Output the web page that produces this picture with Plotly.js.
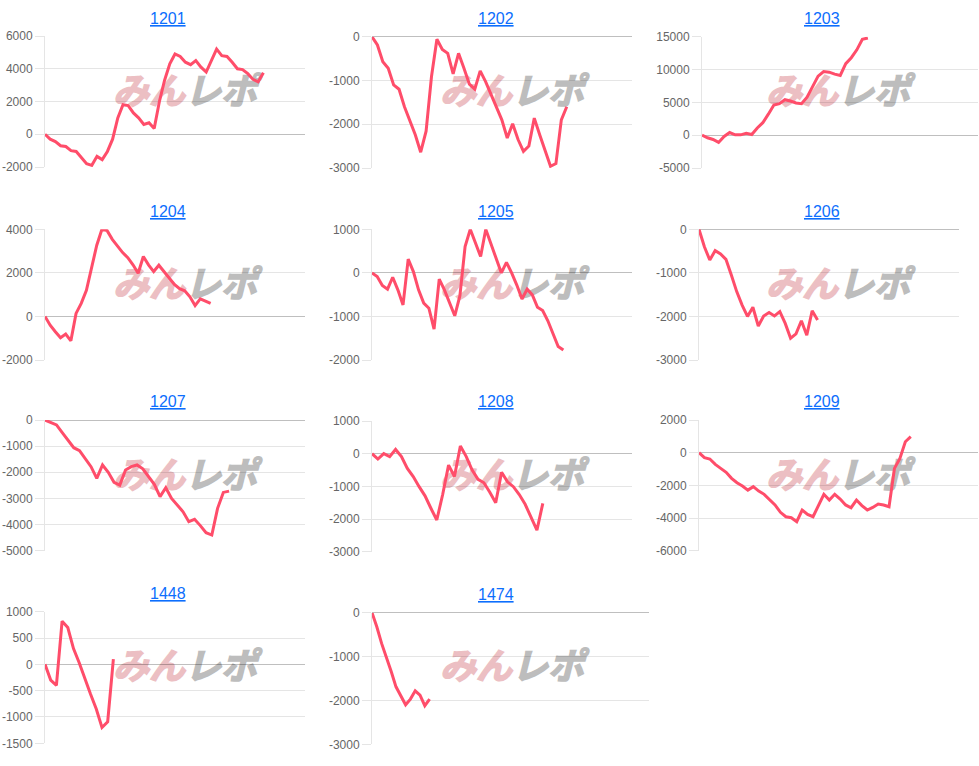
<!DOCTYPE html>
<html><head><meta charset="utf-8">
<script src="https://cdn.plot.ly/plotly-3.0.1.min.js"></script>
<style>html,body{margin:0;padding:0;background:#fff;}#chart{width:979px;height:766px;}</style>
</head><body><div id="chart"></div>
<script>
// ---- data ----
const names = ['1201','1202','1203','1204','1205','1206','1207','1208','1209','1448','1474'];
const v1201 = [0,-300,-450,-700,-750,-1000,-1050,-1450,-1800,-1900,-1350,-1550,-1050,-300,1000,1800,1750,1300,1000,600,700,350,2000,3300,4300,4900,4750,4400,4250,4500,4100,3800,4500,5200,4800,4750,4400,4000,3950,3700,3350,3200,3750];
const v1202 = [0,-190,-570,-720,-1100,-1200,-1600,-1940,-2240,-2640,-2160,-910,-60,-290,-380,-850,-380,-720,-1085,-1200,-780,-1025,-1330,-1630,-1900,-2315,-1990,-2350,-2620,-2500,-1860,-2240,-2580,-2960,-2900,-1900,-1600];
const v1203 = [0,-400,-650,-1100,-200,400,50,50,300,100,1100,1900,3200,4600,4800,5400,5200,4900,4800,5800,7400,9000,9700,9600,9300,9100,10900,11800,13000,14600,14800];
const v1204 = [0,-400,-700,-980,-810,-1120,140,600,1200,2280,3270,4000,3940,3540,3230,2930,2700,2370,1980,2750,2370,2060,2350,2060,1720,1470,1270,1180,900,500,810,720,600];
const v1205 = [0,-85,-290,-375,-100,-390,-735,315,30,-390,-695,-810,-1290,-145,-390,-695,-985,-525,605,1000,680,375,1000,680,335,0,240,0,-280,-600,-375,-505,-790,-865,-1100,-1400,-1690,-1770];
const v1206 = [0,-400,-705,-490,-565,-690,-1050,-1430,-1740,-2000,-1790,-2220,-1990,-1910,-1990,-1890,-2160,-2500,-2400,-2100,-2430,-1870,-2080];
const v1207 = [0,-90,-190,-485,-765,-1060,-1170,-1490,-1785,-2230,-1720,-2000,-2385,-2490,-1910,-1785,-1720,-1870,-2170,-2460,-2930,-2590,-3000,-3250,-3510,-3890,-3800,-4040,-4310,-4400,-3380,-2770,-2720];
const v1208 = [0,-165,0,-90,130,-90,-450,-700,-1010,-1290,-1670,-2030,-1250,-350,-700,235,-90,-500,-785,-890,-1180,-1500,-570,-860,-1010,-1250,-1550,-1930,-2340,-1520];
const v1209 = [0,-300,-390,-715,-960,-1200,-1570,-1840,-2040,-2290,-2080,-2350,-2550,-2900,-3200,-3650,-3920,-3980,-4220,-3510,-3780,-3920,-3240,-2550,-2900,-2550,-2840,-3200,-3370,-2900,-3240,-3510,-3350,-3140,-3200,-3310,-960,-350,670,980];
const v1448 = [0,-300,-400,820,700,300,30,-290,-570,-850,-1200,-1090,100];
const v1474 = [0,-320,-700,-1000,-1340,-1690,-1890,-2100,-1970,-1780,-1880,-2120,-1970];

const t1201 = [-2000,0,2000,4000,6000];
const t1202 = [-3000,-2000,-1000,0];
const t1203 = [-5000,0,5000,10000,15000];
const t1204 = [-2000,0,2000,4000];
const t1205 = [-2000,-1000,0,1000];
const t1206 = [-3000,-2000,-1000,0];
const t1207 = [-5000,-4000,-3000,-2000,-1000,0];
const t1208 = [-3000,-2000,-1000,0,1000];
const t1209 = [-6000,-4000,-2000,0,2000];
const t1448 = [-1500,-1000,-500,0,500,1000];
const t1474 = [-3000,-2000,-1000,0];

const watermarkPink = 'みん';
const watermarkGrey = 'レポ';

// ---- layout (pixel boxes) ----
const W = 979, H = 766;
const charts = [
  {vals:v1201, ticks:t1201, box:[45,305,36,167],    end:0.840, title:[168,18],  wm:[185,94]},
  {vals:v1202, ticks:t1202, box:[372,632,36.7,168], end:0.749, title:[496,18],  wm:[512,94]},
  {vals:v1203, ticks:t1203, box:[702,978,36.7,168], end:0.601, title:[822,18],  wm:[838,94]},
  {vals:v1204, ticks:t1204, box:[45,305,229.3,360], end:0.637, title:[168,211], wm:[185,287]},
  {vals:v1205, ticks:t1205, box:[372,632,229.3,360],end:0.736, title:[496,211], wm:[512,287]},
  {vals:v1206, ticks:t1206, box:[699,959,229.3,360],end:0.456, title:[822,211], wm:[838,287]},
  {vals:v1207, ticks:t1207, box:[45,305,420,550.7], end:0.708, title:[168,402], wm:[185,478]},
  {vals:v1208, ticks:t1208, box:[372,632,421,551.7],end:0.657, title:[496,402], wm:[512,478]},
  {vals:v1209, ticks:t1209, box:[699,978,420,550.7],end:0.759, title:[822,402], wm:[838,478]},
  {vals:v1448, ticks:t1448, box:[45,305,611.7,743.3],end:0.263, title:[168,593], wm:[185,669]},
  {vals:v1474, ticks:t1474, box:[372,649,612.7,744.3],end:0.208, title:[496,594], wm:[512,669]}
];

const traces = [];
const layout = {
  width:W, height:H, margin:{l:0,r:0,t:0,b:0},
  paper_bgcolor:'#ffffff', plot_bgcolor:'rgba(0,0,0,0)', showlegend:false,
  font:{family:'"Liberation Sans", Arial, sans-serif', color:'#666'},
  annotations:[], shapes:[]
};
const pinkStyle = 'fill:#ecbfc3;stroke:#ecbfc3;stroke-width:1.5px;font-weight:bold';
const greyStyle = 'fill:#bdbdbd;stroke:#bdbdbd;stroke-width:1.5px;font-weight:bold';
charts.forEach((c,i)=>{
  const k = i===0 ? '' : String(i+1);
  traces.push({
    x:c.vals.map((_,j)=>j), y:c.vals, xaxis:'x'+k, yaxis:'y'+k,
    type:'scatter', mode:'lines', line:{color:'#ff4d6a', width:3}, hoverinfo:'skip'
  });
  layout['xaxis'+k] = {
    domain:[c.box[0]/W, c.box[1]/W], range:[0,(c.vals.length-1)/c.end],
    showgrid:false, zeroline:false, showticklabels:false, ticks:'', showline:false,
    anchor:'y'+k, fixedrange:true
  };
  layout['yaxis'+k] = {
    domain:[1-c.box[3]/H, 1-c.box[2]/H],
    range:[c.ticks[0], c.ticks[c.ticks.length-1]],
    tickmode:'array', tickvals:c.ticks, ticktext:c.ticks.map(String),
    showgrid:true, gridcolor:'rgba(0,0,0,0.1)', gridwidth:1,
    zeroline:true, zerolinecolor:'rgba(0,0,0,0.25)', zerolinewidth:1,
    showline:true, linecolor:'rgba(0,0,0,0.1)', linewidth:1,
    ticks:'outside', ticklen:9, tickwidth:1, tickcolor:'rgba(0,0,0,0.1)',
    tickfont:{size:12, color:'#666', family:'"Liberation Sans", Arial, sans-serif'},
    anchor:'x'+k, fixedrange:true
  };
  layout.annotations.push({
    xref:'paper', yref:'paper', x:c.title[0]/W, y:1-c.title[1]/H,
    xanchor:'center', yanchor:'middle', showarrow:false,
    text:'<span style="text-decoration:underline">'+names[i]+'</span>',
    font:{size:16, color:'#0d6efd', family:'"Liberation Sans", Arial, sans-serif'}
  });
  layout.shapes.push({
    type:'rect', xref:'paper', yref:'paper', layer:'below',
    x0:(c.wm[0]-85)/W, x1:(c.wm[0]+85)/W, y0:1-(c.wm[1]+18)/H, y1:1-(c.wm[1]-18)/H,
    line:{width:0}, fillcolor:'rgba(0,0,0,0)',
    label:{
      text:'<span style="'+pinkStyle+'">'+watermarkPink+'</span><span style="'+greyStyle+'">'+watermarkGrey+'</span>',
      textposition:'middle center',
      font:{family:'"Noto Sans CJK JP", sans-serif', size:36, weight:'bold', style:'italic', color:'#bbb'}
    }
  });
});
Plotly.newPlot('chart', traces, layout, {displayModeBar:false, staticPlot:true});
</script>
</body></html>
